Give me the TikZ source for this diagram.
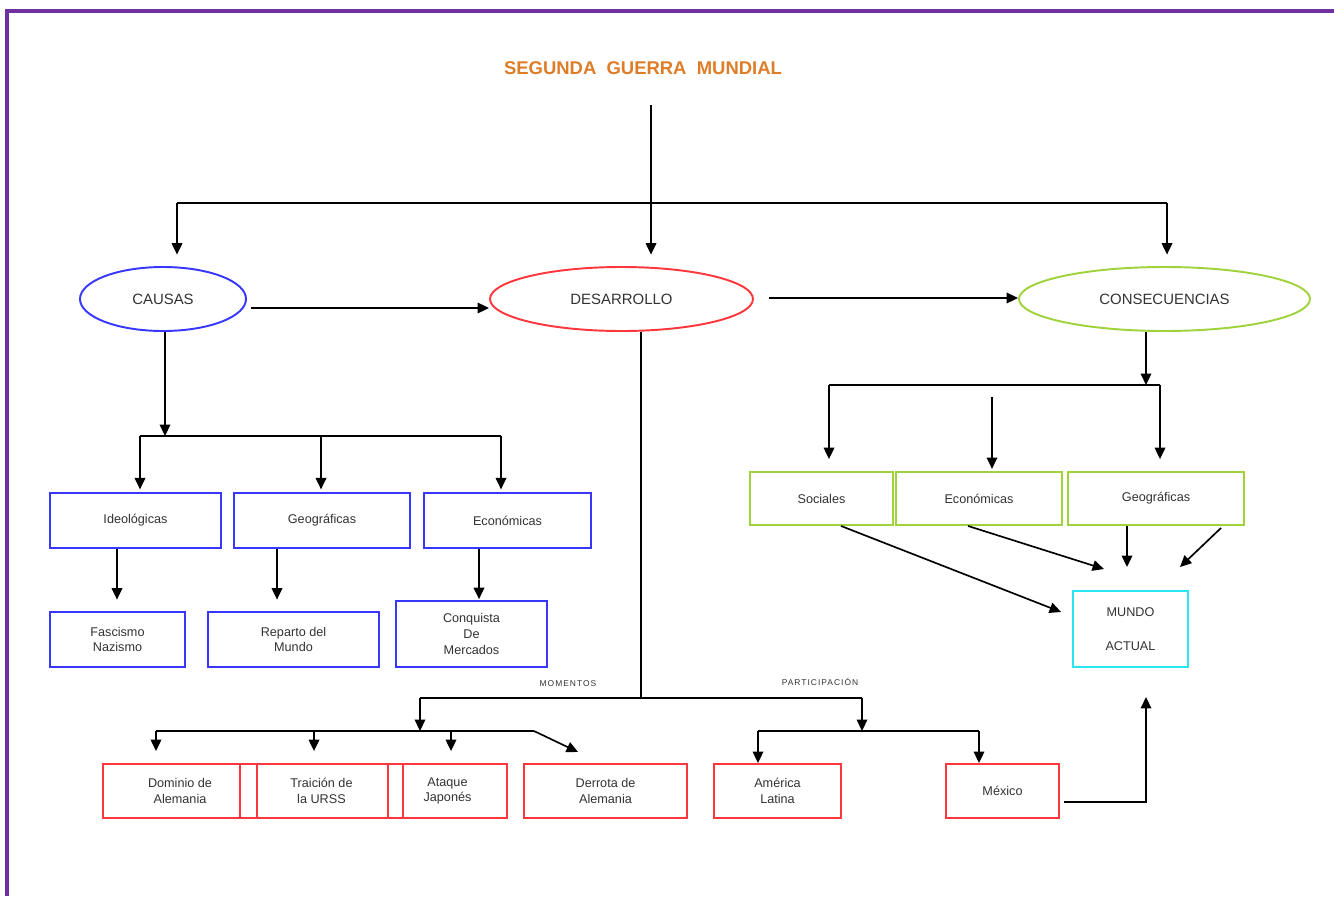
\documentclass[tikz,border=0pt]{standalone}
\usepackage{fontspec}
\setmainfont{Liberation Sans}
\usetikzlibrary{arrows.meta,positioning,shapes.geometric}
\definecolor{wwtitle}{RGB}{222,125,40}
\definecolor{wwblue}{RGB}{55,55,255}
\definecolor{wwred}{RGB}{255,55,60}
\definecolor{wwgreen}{RGB}{160,210,60}
\definecolor{wwcyan}{RGB}{40,230,240}
\definecolor{wwframe}{RGB}{112,48,160}
\definecolor{wwtext}{RGB}{50,50,50}
\tikzset{
  arr/.style={-{Triangle[length=6.5pt,width=6pt]}, line width=0.95pt, black},
  ln/.style={line width=0.95pt, black},
  ell/.style={ellipse, draw, line width=1.1pt, inner sep=0pt, minimum height=1.28cm,
              font=\fontsize{8.5}{10}\selectfont, text=wwtext},
  box/.style={draw, line width=1.1pt, inner sep=0pt, align=center,
              font=\fontsize{7.2}{9}\selectfont, text=wwtext},
  tag/.style={font=\fontsize{4.8}{6}\selectfont\addfontfeature{LetterSpace=12}, text=wwtext},
}

\begin{document}
\begin{tikzpicture}[x=0.2mm, y=-0.2mm]
        \useasboundingbox (0,0) rectangle (1334,896);
        \draw[wwframe, line width=2.2pt] (7,896) -- (7,11) -- (1334,11);
        \node[font=\bfseries\fontsize{10.5}{12}\selectfont, text=wwtitle] (title) at (643,68) {SEGUNDA\ \ GUERRA\ \ MUNDIAL};
        \node[ell, draw=wwblue, minimum width=3.32cm] (causas) at (163,299) {CAUSAS};
        \node[ell, draw=wwred, minimum width=5.26cm] (desa) at (621.5,299) {DESARROLLO};
        \node[ell, draw=wwgreen, minimum width=5.82cm] (cons) at (1164.5,299) {CONSECUENCIAS};
        \node[box, draw=wwblue, minimum width=3.42cm, minimum height=1.1cm] (ideo) at (135.5,520.5) {Ideológicas};
        \node[box, draw=wwblue, minimum width=3.52cm, minimum height=1.1cm] (geoc) at (322,520.5) {Geográficas};
        \node[box, draw=wwblue, minimum width=3.34cm, minimum height=1.1cm] (ecoc) at (507.5,520.5) {Económicas};
        \node[box, draw=wwblue, minimum width=2.7cm, minimum height=1.1cm] (fasc) at (117.5,639.5) {Fascismo\\Nazismo};
        \node[box, draw=wwblue, minimum width=3.42cm, minimum height=1.1cm] (repa) at (293.5,639.5) {Reparto del\\Mundo};
        \node[box, draw=wwblue, minimum width=3.02cm, minimum height=1.32cm] (conq) at (471.5,634) {Conquista\\De\\Mercados};
        \node[box, draw=wwred, minimum width=3.08cm, minimum height=1.08cm] (domi) at (180,791) {Dominio de\\Alemania};
        \node[box, draw=wwred, minimum width=3.26cm, minimum height=1.08cm] (trai) at (321.5,791) {Traición de\\la URSS};
        \node[box, draw=wwred, minimum width=2.38cm, minimum height=1.08cm] (ataq) at (447.5,791) {Ataque\\Japonés};
        \node[box, draw=wwred, minimum width=3.26cm, minimum height=1.08cm] (derr) at (605.5,791) {Derrota de\\Alemania};
        \node[box, draw=wwred, minimum width=2.54cm, minimum height=1.08cm] (amer) at (777.5,791) {América\\Latina};
        \node[box, draw=wwred, minimum width=2.26cm, minimum height=1.08cm] (mexi) at (1002.5,791) {México};
        \node[box, draw=wwgreen, minimum width=2.86cm, minimum height=1.06cm] (soci) at (821.5,498.5) {Sociales};
        \node[box, draw=wwgreen, minimum width=3.32cm, minimum height=1.06cm] (ecor) at (979,498.5) {Económicas};
        \node[box, draw=wwgreen, minimum width=3.52cm, minimum height=1.06cm] (geor) at (1156,498.5) {Geográficas};
        \node[box, draw=wwcyan, minimum width=2.3cm, minimum height=1.52cm] (mund) at (1130.5,629) {MUNDO\\[10pt]ACTUAL};
        \node[tag] (mom) at (568,684) {MOMENTOS};
        \node[tag] (part) at (820,682) {PARTICIPACIÓN};
        \coordinate (top) at (651,105);
        \coordinate (hl) at (177,203);
        \coordinate (hr) at (1167,203);
        \draw[arr, shorten >=6.5pt] (top) -- (top |- desa.north);
        \draw[ln] (hl) -- (hr);
        \draw[arr, shorten >=6.5pt] (hl) -- (hl |- causas.north);
        \draw[arr, shorten >=6.5pt] (hr) -- (hr |- cons.north);
        \draw[arr] ([shift={(4,9)}]causas.east) -- ([shift={(0,9)}]desa.west);
        \draw[arr] ([shift={(15,-1)}]desa.east) -- ([shift={(0,-1)}]cons.west);
        \coordinate (cj) at (165,436);
        \coordinate (cl) at (140,436);
        \coordinate (cm) at (321,436);
        \coordinate (cr) at (501,436);
        \draw[arr] (causas.south -| cj) -- (cj);
        \draw[ln] (cl) -- (cr);
        \draw[arr, shorten >=1.5pt] (cl) -- (cl |- ideo.north);
        \draw[arr, shorten >=1.5pt] (cm) -- (cm |- geoc.north);
        \draw[arr, shorten >=1.5pt] (cr) -- (cr |- ecoc.north);
        \coordinate (a1) at (117,0);
        \coordinate (a2) at (277,0);
        \coordinate (a3) at (479,0);
        \draw[arr, shorten >=6.5pt] (ideo.south -| a1) -- (fasc.north -| a1);
        \draw[arr, shorten >=6.5pt] (geoc.south -| a2) -- (repa.north -| a2);
        \draw[arr, shorten >=0.5pt] (ecoc.south -| a3) -- (conq.north -| a3);
        \coordinate (dj) at (641,698);
        \coordinate (ml) at (420,698);
        \coordinate (pr) at (862,698);
        \coordinate (mj) at (420,731);
        \coordinate (pj) at (862,731);
        \draw[ln] (desa.south -| dj) -- (dj);
        \draw[ln] (ml) -- (pr);
        \draw[arr] (ml) -- (mj);
        \draw[arr] (pr) -- (pj);
        \coordinate (m1) at (156,731);
        \coordinate (m2) at (314,731);
        \coordinate (m3) at (451,731);
        \coordinate (m4) at (534,731);
        \coordinate (dtip) at (578,752);
        \draw[ln] (m1) -- (m4);
        \draw[arr] (m4) -- (dtip);
        \draw[arr, shorten >=6.8pt] (m1) -- (m1 |- domi.north);
        \draw[arr, shorten >=6.8pt] (m2) -- (m2 |- trai.north);
        \draw[arr, shorten >=6.8pt] (m3) -- (m3 |- ataq.north);
        \coordinate (p1) at (758,731);
        \coordinate (p2) at (979,731);
        \draw[ln] (p1) -- (p2);
        \draw[arr] (p1) -- (p1 |- amer.north);
        \draw[arr] (p2) -- (p2 |- mexi.north);
        \coordinate (mt) at (1146,697);
        \draw[arr] ([shift={(4,11)}]mexi.east) -| (mt);
        \coordinate (kj) at (1146,385);
        \coordinate (k1) at (829,385);
        \coordinate (k2) at (992,397);
        \coordinate (k3) at (1160,385);
        \draw[arr] (cons.south -| kj) -- (kj);
        \draw[ln] (k1) -- (k3);
        \draw[arr, shorten >=6.8pt] (k1) -- (k1 |- soci.north);
        \draw[arr, shorten >=1.2pt] (k2) -- (k2 |- ecor.north);
        \draw[arr, shorten >=6.8pt] (k3) -- (k3 |- geor.north);
        \draw[arr] ([xshift=19.5*0.2mm]soci.south) -- ([shift={(-11,-17)}]mund.west);
        \draw[arr] ([xshift=-11*0.2mm]ecor.south) -- ([shift={(-26.5,-21)}]mund.north);
        \draw[arr] ([xshift=-29*0.2mm]geor.south) -- ([shift={(-3.5,-23)}]mund.north);
        \draw[arr] ([shift={(65,2)}]geor.south) -- ([shift={(49.5,-23)}]mund.north);
      \end{tikzpicture}
\end{document}
